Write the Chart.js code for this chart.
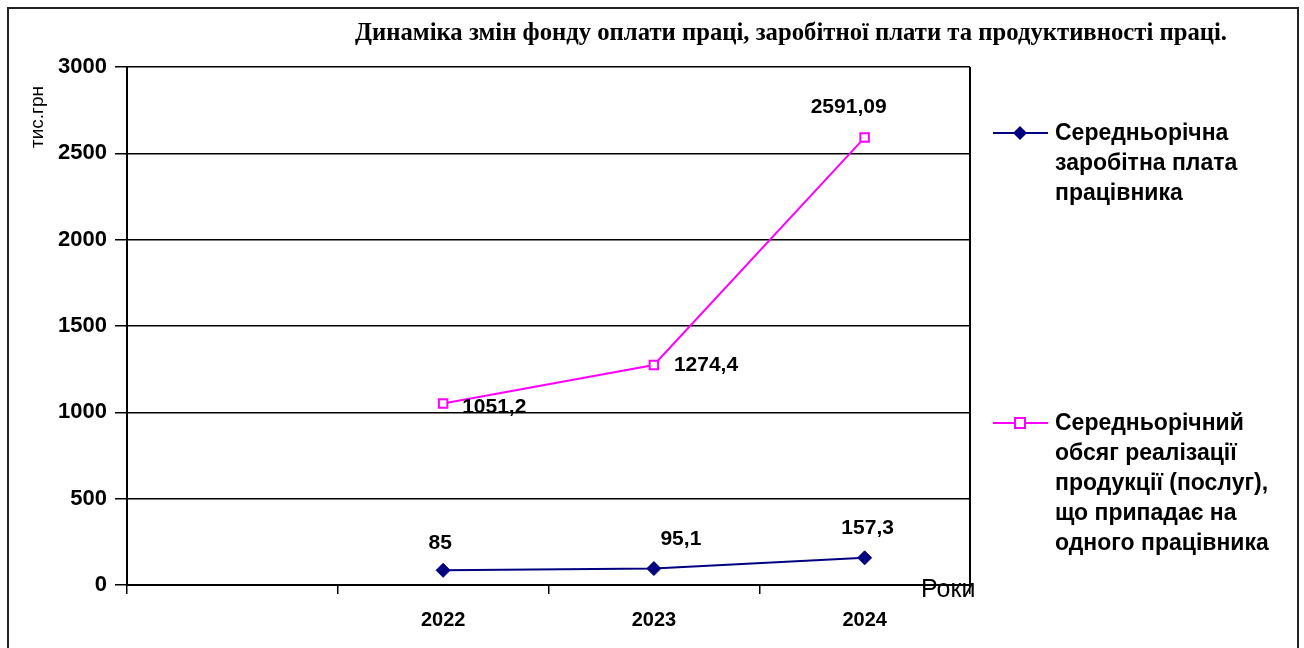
<!DOCTYPE html>
<html>
<head>
<meta charset="utf-8">
<script src="https://cdn.jsdelivr.net/npm/chart.js@4.4.1/dist/chart.umd.min.js"></script>
<style>
    html, body { margin: 0; padding: 0; background: #fff; }
    #wrap { width: 1304px; height: 648px; position: relative; }
</style>
</head>
<body>
<div id="wrap"><canvas id="chart"></canvas></div>
<script>
// Chart data
const years = ['', '2022', '2023', '2024'];
const avgSalary = [null, 85, 95.1, 157.3];
const avgOutput = [null, 1051.2, 1274.4, 2591.09];
const yTicks = [0, 500, 1000, 1500, 2000, 2500, 3000];

const chartTitle = 'Динаміка змін фонду оплати праці, заробітної плати та продуктивності праці.';
const yTitle = 'тис.грн';
const xTitle = 'Роки';
const legendSalary = ['Середньорічна', 'заробітна плата', 'працівника'];
const legendOutput = ['Середньорічний', 'обсяг реалізації', 'продукції (послуг),', 'що припадає на', 'одного працівника'];

const NAVY = '#000080';
const MAGENTA = '#FF00FF';
const SANS = '"Liberation Sans", Arial, sans-serif';

// label placement relative to each point: [dx, dy, align]
const salaryLabelPos = [null, [-3, -27, 'center'], [27, -29, 'center'], [3, -30, 'center']];
const outputLabelPos = [null, [19, 4, 'left'], [20, 0, 'left'], [-16, -30, 'center']];

function fmt(v) {
    return String(v).replace('.', ',');
}

// Draw frame, title, axis captions, value labels and legend
const decorPlugin = {
    id: 'decor',
    beforeDraw(chart) {
        const ctx = chart.ctx;
        ctx.save();
        ctx.fillStyle = '#fff';
        ctx.fillRect(0, 0, chart.width, chart.height);
        ctx.strokeStyle = '#222';
        ctx.lineWidth = 2;
        ctx.strokeRect(8, 8, 1290, 700);
        ctx.restore();
    },
    afterDraw(chart) {
        const ctx = chart.ctx;
        const area = chart.chartArea;
        ctx.save();

        // right border of plot area
        ctx.strokeStyle = '#000';
        ctx.lineWidth = 2;
        ctx.beginPath();
        ctx.moveTo(area.right, area.top);
        ctx.lineTo(area.right, area.bottom);
        ctx.stroke();

        // title (condensed serif)
        ctx.fillStyle = '#000';
        ctx.font = 'bold 26px "Liberation Serif", "Times New Roman", serif';
        ctx.textBaseline = 'middle';
        ctx.textAlign = 'left';
        const tw = ctx.measureText(chartTitle).width;
        ctx.save();
        ctx.translate(355, 33);
        ctx.scale(872 / tw, 1);
        ctx.fillText(chartTitle, 0, 0);
        ctx.restore();

        // y axis caption
        ctx.save();
        ctx.translate(38, 117);
        ctx.rotate(-Math.PI / 2);
        ctx.textAlign = 'center';
        ctx.font = '19px ' + SANS;
        ctx.fillText(yTitle, 0, 0);
        ctx.restore();

        // x axis caption
        ctx.font = '25px ' + SANS;
        ctx.textAlign = 'left';
        ctx.fillText(xTitle, 921, 590);

        // value labels
        ctx.font = 'bold 21px ' + SANS;
        const drawLabels = (dsIndex, values, pos) => {
            const meta = chart.getDatasetMeta(dsIndex);
            meta.data.forEach((pt, i) => {
                if (values[i] == null || !pos[i]) return;
                ctx.textAlign = pos[i][2];
                ctx.fillText(fmt(values[i]), pt.x + pos[i][0], pt.y + pos[i][1]);
            });
        };
        drawLabels(0, avgSalary, salaryLabelPos);
        drawLabels(1, avgOutput, outputLabelPos);

        // legend
        const drawLegend = (y, color, style, lines) => {
            ctx.strokeStyle = color;
            ctx.lineWidth = 2;
            ctx.beginPath();
            ctx.moveTo(993, y);
            ctx.lineTo(1048, y);
            ctx.stroke();
            if (style === 'diamond') {
                ctx.fillStyle = color;
                ctx.beginPath();
                ctx.moveTo(1020, y - 7);
                ctx.lineTo(1027, y);
                ctx.lineTo(1020, y + 7);
                ctx.lineTo(1013, y);
                ctx.closePath();
                ctx.fill();
            } else {
                ctx.fillStyle = '#fff';
                ctx.fillRect(1015, y - 5, 10, 10);
                ctx.strokeRect(1015, y - 5, 10, 10);
            }
            ctx.fillStyle = '#000';
            ctx.font = 'bold 23px ' + SANS;
            ctx.textAlign = 'left';
            lines.forEach((t, i) => ctx.fillText(t, 1055, y + 1 + i * 30));
        };
        drawLegend(133, NAVY, 'diamond', legendSalary);
        drawLegend(423, MAGENTA, 'square', legendOutput);

        ctx.restore();
    }
};

new Chart(document.getElementById('chart'), {
    type: 'line',
    data: {
        labels: years,
        datasets: [{
            label: legendSalary.join(' '),
            data: avgSalary,
            borderColor: NAVY,
            backgroundColor: NAVY,
            borderWidth: 2,
            pointStyle: 'rectRot',
            pointRadius: 7,
            pointBorderWidth: 1,
            tension: 0
        }, {
            label: legendOutput.join(' '),
            data: avgOutput,
            borderColor: MAGENTA,
            backgroundColor: '#fff',
            borderWidth: 2,
            pointStyle: 'rect',
            pointRadius: 6,
            pointBorderWidth: 2,
            tension: 0
        }]
    },
    options: {
        responsive: true,
        maintainAspectRatio: false,
        animation: false,
        layout: {
            padding: { top: 67, right: 334, left: 0, bottom: 0 }
        },
        plugins: {
            legend: { display: false },
            title: { display: false },
            tooltip: { enabled: false }
        },
        scales: {
            x: {
                offset: true,
                grid: {
                    offset: true,
                    drawOnChartArea: false,
                    drawTicks: true,
                    tickLength: 9,
                    color: '#000',
                    lineWidth: 1.5
                },
                border: { color: '#000', width: 2 },
                ticks: {
                    color: '#000',
                    padding: 14,
                    font: { family: SANS, size: 20, weight: 'bold' }
                },
                afterFit(scale) { scale.height = 63; }
            },
            y: {
                min: 0,
                max: 3000,
                afterBuildTicks(scale) {
                    scale.ticks = yTicks.map(v => ({ value: v }));
                },
                grid: {
                    color: '#000',
                    lineWidth: 1.5,
                    tickLength: 12
                },
                border: { color: '#000', width: 2 },
                ticks: {
                    color: '#000',
                    padding: 8,
                    callback: (v) => String(v),
                    font: { family: SANS, size: 22, weight: 'bold' }
                },
                afterFit(scale) { scale.width = 127; }
            }
        }
    },
    plugins: [decorPlugin]
});
</script>
</body>
</html>
